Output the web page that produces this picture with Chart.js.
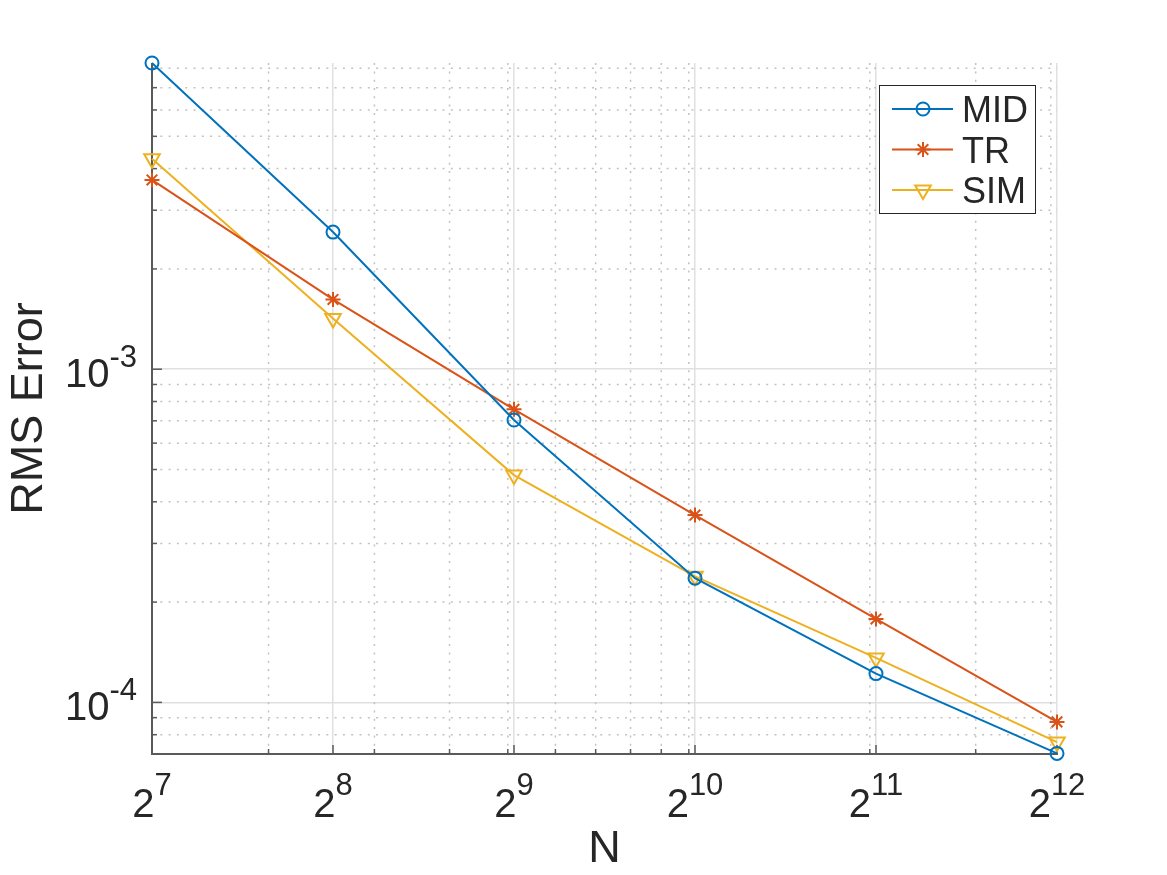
<!DOCTYPE html>
<html lang="en">
<head>
    <meta charset="UTF-8">
    <title>RMS Error vs N</title>
    <script src="https://cdn.jsdelivr.net/npm/chart.js"></script>
    <style>
        body { margin: 0; background: #fff; }
        #errChart { display: block; }
    </style>
</head>
<body>
    <canvas id="errChart" width="1167" height="875"></canvas>

    <script>
        // data
        var N = [128, 256, 512, 1024, 2048, 4096];
        var midErr = [8.30e-3, 2.58e-3, 7.04e-4, 2.36e-4, 1.22e-4, 7.03e-5];
        var trErr  = [3.70e-3, 1.62e-3, 7.58e-4, 3.65e-4, 1.78e-4, 8.74e-5];
        var simErr = [4.28e-3, 1.42e-3, 4.81e-4, 2.39e-4, 1.36e-4, 7.60e-5];
        var seriesNames = ["MID", "TR", "SIM"];

        // ticks
        var xTicks = [128, 256, 512, 1024, 2048, 4096];
        var xTickExp = ["7", "8", "9", "10", "11", "12"];
        var xMinor = [200, 300, 400, 500, 600, 700, 800, 900, 1000, 2000, 3000, 4000];
        var yTicks = [1e-4, 1e-3];
        var yTickExp = ["-4", "-3"];
        var yMinor = [8e-5, 9e-5, 2e-4, 3e-4, 4e-4, 5e-4, 6e-4, 7e-4, 8e-4, 9e-4,
                      2e-3, 3e-3, 4e-3, 5e-3, 6e-3, 7e-3, 8e-3, 9e-3];

        var colors = ["#0072BD", "#D95319", "#EDB120"];
        var FONT = '"Liberation Sans", Arial, sans-serif';
        var TXT = '#262626';

        var allErr = midErr.concat(trErr, simErr);
        var yMin = Math.min.apply(null, allErr);
        var yMax = Math.max.apply(null, allErr);

        function pts(arr) {
            return arr.map(function (v, i) { return { x: N[i], y: v }; });
        }

        var markers = [
            { pointStyle: 'circle', pointRadius: 6.5, rotation: 0 },
            { pointStyle: 'star', pointRadius: 7.5, rotation: 0 },
            { pointStyle: 'triangle', pointRadius: 9, rotation: 180 }
        ];

        var datasets = [midErr, trErr, simErr].map(function (arr, i) {
            return {
                label: seriesNames[i],
                data: pts(arr),
                borderColor: colors[i],
                backgroundColor: 'rgba(0,0,0,0)',
                borderWidth: 2,
                pointStyle: markers[i].pointStyle,
                pointRadius: markers[i].pointRadius,
                pointRotation: markers[i].rotation,
                pointBorderWidth: 2,
                pointBorderColor: colors[i],
                pointBackgroundColor: 'rgba(0,0,0,0)',
                tension: 0,
                clip: false
            };
        });

        function line(ctx, x1, y1, x2, y2) {
            ctx.beginPath();
            ctx.moveTo(x1, y1);
            ctx.lineTo(x2, y2);
            ctx.stroke();
        }

        // draws base with a raised exponent, anchor = 'center' or 'right'
        function powLabel(ctx, base, exp, x, baseY, rise, anchor) {
            ctx.font = '40px ' + FONT;
            var wb = ctx.measureText(base).width;
            ctx.font = '31px ' + FONT;
            var we = ctx.measureText(exp).width;
            var x0 = anchor === 'right' ? x - wb - we : x - (wb + we) / 2;
            ctx.textAlign = 'left';
            ctx.textBaseline = 'alphabetic';
            ctx.font = '40px ' + FONT;
            ctx.fillText(base, x0, baseY);
            ctx.font = '31px ' + FONT;
            ctx.fillText(exp, x0 + wb, baseY - rise);
        }

        var matlabAxes = {
            id: 'matlabAxes',
            beforeDatasetsDraw: function (chart) {
                var ctx = chart.ctx, a = chart.chartArea;
                var xs = chart.scales.x, ys = chart.scales.y;
                ctx.save();

                // minor dotted grid
                ctx.strokeStyle = '#c2c2c2';
                ctx.lineWidth = 1.5;
                ctx.setLineDash([2, 6.3]);
                xMinor.forEach(function (v) {
                    var px = xs.getPixelForValue(v);
                    line(ctx, px, a.bottom, px, a.top);
                });
                yMinor.forEach(function (v) {
                    if (v < yMin || v > yMax) return;
                    var py = ys.getPixelForValue(v);
                    line(ctx, a.left, py, a.right, py);
                });
                ctx.setLineDash([]);

                // axis lines (box off: left + bottom only)
                ctx.strokeStyle = '#5a5a5a';
                ctx.lineWidth = 2;
                line(ctx, a.left, a.top, a.left, a.bottom + 1);
                line(ctx, a.left - 1, a.bottom, a.right + 1, a.bottom);

                // tick marks pointing inward
                ctx.lineWidth = 1.5;
                xTicks.forEach(function (v) {
                    var px = xs.getPixelForValue(v);
                    line(ctx, px, a.bottom, px, a.bottom - 9);
                });
                xMinor.forEach(function (v) {
                    var px = xs.getPixelForValue(v);
                    line(ctx, px, a.bottom, px, a.bottom - 5);
                });
                yTicks.forEach(function (v) {
                    var py = ys.getPixelForValue(v);
                    line(ctx, a.left, py, a.left + 10, py);
                });
                yMinor.forEach(function (v) {
                    if (v < yMin || v > yMax) return;
                    var py = ys.getPixelForValue(v);
                    line(ctx, a.left, py, a.left + 5, py);
                });
                ctx.restore();
            },
            afterDraw: function (chart) {
                var ctx = chart.ctx, a = chart.chartArea;
                var xs = chart.scales.x, ys = chart.scales.y;
                ctx.save();
                ctx.fillStyle = TXT;

                // tick labels
                xTicks.forEach(function (v, i) {
                    powLabel(ctx, '2', xTickExp[i], xs.getPixelForValue(v), a.bottom + 63, 22.5, 'center');
                });
                yTicks.forEach(function (v, i) {
                    var py = ys.getPixelForValue(v);
                    powLabel(ctx, '10', yTickExp[i], a.left - 15, py + 18, 20, 'right');
                });

                // axis titles
                ctx.font = '45px ' + FONT;
                ctx.textAlign = 'center';
                ctx.textBaseline = 'alphabetic';
                ctx.fillText('N', (a.left + a.right) / 2, 862);
                ctx.save();
                ctx.translate(42, (a.top + a.bottom) / 2);
                ctx.rotate(-Math.PI / 2);
                ctx.fillText('RMS Error', 0, 0);
                ctx.restore();

                // legend
                var bx = 879.5, by = 85.5, bw = 156, bh = 128;
                ctx.fillStyle = '#fff';
                ctx.fillRect(bx, by, bw, bh);
                ctx.strokeStyle = '#262626';
                ctx.lineWidth = 1;
                ctx.strokeRect(bx, by, bw, bh);
                chart.data.datasets.forEach(function (ds, i) {
                    var ry = 109 + i * 40.5;
                    ctx.strokeStyle = ds.borderColor;
                    ctx.lineWidth = 2;
                    line(ctx, 892, ry, 953, ry);
                    ctx.fillStyle = 'rgba(0,0,0,0)';
                    Chart.helpers.drawPoint(ctx, {
                        pointStyle: ds.pointStyle,
                        radius: ds.pointRadius,
                        rotation: ds.pointRotation,
                        borderWidth: 2
                    }, 923, ry);
                    ctx.fillStyle = TXT;
                    ctx.font = '36px ' + FONT;
                    ctx.textAlign = 'left';
                    ctx.textBaseline = 'alphabetic';
                    ctx.fillText(ds.label, 962, ry + 13);
                });
                ctx.restore();
            }
        };

        var ctx = document.getElementById("errChart").getContext("2d");
        var errChart = new Chart(ctx, {
            type: 'line',
            data: { datasets: datasets },
            options: {
                responsive: false,
                animation: false,
                devicePixelRatio: 1,
                layout: { padding: { left: 152, right: 110, top: 63, bottom: 121 } },
                plugins: { legend: { display: false }, tooltip: { enabled: false } },
                scales: {
                    x: {
                        type: 'logarithmic',
                        min: N[0],
                        max: N[N.length - 1],
                        afterBuildTicks: function (axis) {
                            axis.ticks = xTicks.map(function (v) { return { value: v }; });
                        },
                        ticks: { display: false },
                        border: { display: false },
                        grid: { drawTicks: false, color: '#e0e0e0', lineWidth: 1.5 }
                    },
                    y: {
                        type: 'logarithmic',
                        min: yMin,
                        max: yMax,
                        afterBuildTicks: function (axis) {
                            axis.ticks = yTicks.map(function (v) { return { value: v }; });
                        },
                        ticks: { display: false },
                        border: { display: false },
                        grid: { drawTicks: false, color: '#e0e0e0', lineWidth: 1.5 }
                    }
                }
            },
            plugins: [matlabAxes]
        });
    </script>
</body>
</html>
